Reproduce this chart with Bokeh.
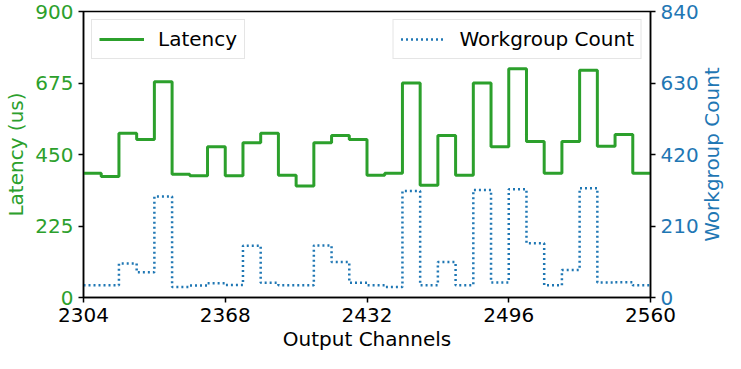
import math
from bokeh.plotting import figure
from bokeh.models import Range1d, LinearAxis, FixedTicker, Legend, LegendItem, Label
from bokeh.embed import file_html
from bokeh.resources import INLINE

# Output channel block starts (each block = 8 channels) and final channel
block_start = [2304, 2312, 2320, 2328, 2336, 2344, 2352, 2360,
               2368, 2376, 2384, 2392, 2400, 2408, 2416, 2424,
               2432, 2440, 2448, 2456, 2464, 2472, 2480, 2488,
               2496, 2504, 2512, 2520, 2528, 2536, 2544, 2552, 2560]

latency_us = [391, 381, 517, 497, 679, 388, 383, 474,
              383, 487, 517, 385, 351, 487, 510, 497,
              385, 391, 675, 353, 510, 385, 675, 474,
              720, 491, 391, 491, 715, 476, 513, 391, 391]

workgroup_count = [36, 36, 100, 74, 297, 31, 35, 42,
                   37, 152, 43, 36, 36, 153, 104, 43,
                   36, 31, 313, 36, 104, 36, 316, 44,
                   318, 159, 36, 81, 321, 44, 45, 36, 33]

x_ticks = [2304, 2368, 2432, 2496, 2560]
lat_ticks = [0, 225, 450, 675, 900]
wg_ticks = [0, 210, 420, 630, 840]

GREEN = "#2ca02c"
BLUE = "#1f77b4"
FONT = "DejaVu Sans"
FS = "20px"

p = figure(width=725, height=353, output_backend="svg", toolbar_location=None,
           x_range=Range1d(2304, 2560), y_range=Range1d(0, 900),
           min_border_left=83, min_border_right=72, min_border_top=11,
           min_border_bottom=56)
p.extra_y_ranges = {"wg": Range1d(0, 840)}
p.xgrid.visible = False
p.ygrid.visible = False
p.outline_line_color = "black"
p.outline_line_width = 1.5
p.background_fill_color = "white"
p.border_fill_color = "white"

r_lat = p.step(block_start, latency_us, mode="after", line_color=GREEN, line_width=3)
r_wg = p.step(block_start, workgroup_count, mode="after", line_color=BLUE,
              line_width=2.5, line_dash="2 3", y_range_name="wg")

def style_axis(ax, color):
    ax.axis_line_color = "black"
    ax.axis_line_width = 1.5
    ax.major_tick_line_color = "black"
    ax.major_tick_line_width = 1.5
    ax.major_tick_out = 5
    ax.major_tick_in = 0
    ax.minor_tick_line_color = None
    ax.major_label_text_font = FONT
    ax.major_label_text_font_size = FS
    ax.major_label_text_color = color
    ax.axis_label_text_font = FONT
    ax.axis_label_text_font_size = FS
    ax.axis_label_text_font_style = "normal"
    ax.axis_label_text_color = color
    ax.major_label_standoff = 5

xa = p.xaxis[0]
style_axis(xa, "black")
xa.ticker = FixedTicker(ticks=x_ticks)
xa.axis_label = "Output Channels"
xa.axis_label_standoff = 2

ya = p.yaxis[0]
style_axis(ya, GREEN)
ya.ticker = FixedTicker(ticks=lat_ticks)
ya.axis_label = "Latency (us)"
ya.axis_label_standoff = 4

ra = LinearAxis(y_range_name="wg")
style_axis(ra, BLUE)
ra.ticker = FixedTicker(ticks=wg_ticks)
p.add_layout(ra, "right")

# right axis title, reading bottom-to-top like the reference
p.add_layout(Label(x=10, y=450, x_units="screen", text="Workgroup Count",
                   angle=math.pi / 2, text_align="center", text_baseline="middle",
                   text_font=FONT, text_font_size=FS, text_color=BLUE), "right")

def make_legend(item, loc):
    lg = Legend(items=[item], location=loc)
    lg.label_text_font = FONT
    lg.label_text_font_size = FS
    lg.label_text_color = "black"
    lg.glyph_width = 45
    lg.glyph_height = 20
    lg.label_height = 20
    lg.label_standoff = 14
    lg.padding = 7
    lg.spacing = 0
    lg.margin = 8
    lg.border_line_color = "#cccccc"
    lg.border_line_width = 1.5
    lg.background_fill_color = "white"
    lg.background_fill_alpha = 0.8
    return lg

p.add_layout(make_legend(LegendItem(label="Latency", renderers=[r_lat]), "top_left"), "center")
p.add_layout(make_legend(LegendItem(label="Workgroup Count", renderers=[r_wg]), "top_right"), "center")

open("out.html", "w").write(file_html(p, INLINE))
